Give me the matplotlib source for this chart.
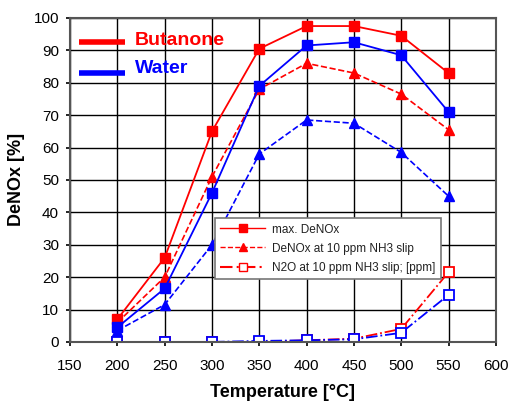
import numpy as np
import matplotlib.pyplot as plt
from matplotlib.lines import Line2D

plt.rcParams['font.family'] = ['Liberation Sans', 'DejaVu Sans']

temps = [200, 250, 300, 350, 400, 450, 500, 550]

but_max = [7, 26, 65, 90.5, 97.5, 97.5, 94.5, 83]
but_slip = [6, 20, 51, 78, 86, 83, 76.5, 65.5]
but_n2o = [0, 0, 0, 0, 0.5, 1, 4, 21.5]

wat_max = [4.5, 16.5, 46, 79, 91.5, 92.5, 88.5, 71]
wat_slip = [3.5, 11.5, 30, 58, 68.5, 67.5, 58.5, 45]
wat_n2o = [0, 0, 0, 0.3, 0.5, 0.8, 2.8, 14.5]

fig = plt.figure(figsize=(5.08, 4.08), dpi=100)
ax = fig.add_axes([0.138, 0.162, 0.838, 0.794])

red = '#ff0000'
blue = '#0000ff'

ax.plot(temps, but_max, '-', color=red, lw=1.3, marker='s', ms=7)
ax.plot(temps, but_slip, '--', color=red, lw=1.2, marker='^', ms=7)
ax.plot(temps, but_n2o, '-.', color=red, lw=1.3, marker='s', ms=7, mfc='white', mew=1.3)

ax.plot(temps, wat_max, '-', color=blue, lw=1.3, marker='s', ms=7)
ax.plot(temps, wat_slip, '--', color=blue, lw=1.2, marker='^', ms=7)
ax.plot(temps, wat_n2o, '-.', color=blue, lw=1.3, marker='s', ms=7, mfc='white', mew=1.3)

ax.set_xlim(150, 600)
ax.set_ylim(0, 100)
ax.set_xticks(np.arange(150, 601, 50))
ax.set_yticks(np.arange(0, 101, 10))
ax.grid(True, color='black', lw=1)
ax.set_axisbelow(True)
for s in ax.spines.values():
    s.set_color('#555555')
    s.set_linewidth(1.5)
ax.tick_params(labelsize=11, direction='out', length=3, width=1.2)
ax.tick_params(axis='x', pad=9)
ax.tick_params(axis='y', pad=5)

ax.set_xlabel('Temperature [°C]', fontsize=13, fontweight='bold', labelpad=8)
ax.set_ylabel('DeNOx [%]', fontsize=13, fontweight='bold', labelpad=6)

# group legend (top left)
ax.plot([0.022, 0.13], [0.925, 0.925], transform=ax.transAxes, color=red, lw=4, solid_capstyle='butt')
ax.plot([0.022, 0.13], [0.83, 0.83], transform=ax.transAxes, color=blue, lw=4, solid_capstyle='butt')
ax.text(0.152, 0.93, 'Butanone', transform=ax.transAxes, color=red, fontsize=14,
        fontweight='bold', va='center')
ax.text(0.152, 0.845, 'Water', transform=ax.transAxes, color=blue, fontsize=14,
        fontweight='bold', va='center')

handles = [
    Line2D([], [], ls='-', color=red, lw=1, marker='s', ms=6),
    Line2D([], [], ls='--', color=red, lw=1, marker='^', ms=6),
    Line2D([], [], ls=(0, (6, 2, 1, 2)), color=red, lw=1.5, marker='s', ms=6, mfc='white'),
]
labels = ['max. DeNOx', 'DeNOx at 10 ppm NH3 slip', 'N2O at 10 ppm NH3 slip; [ppm]']
leg = ax.legend(handles, labels, loc='upper left', bbox_to_anchor=(0.326, 0.40),
                fontsize=8.5, frameon=True, fancybox=False, edgecolor='#777777',
                framealpha=1, handlelength=3.8, handletextpad=0.6, borderpad=0.45,
                labelspacing=0.6)
leg.get_frame().set_linewidth(1.2)
for t in leg.get_texts():
    t.set_color('#222222')

fig.savefig('out.png', dpi=100)
